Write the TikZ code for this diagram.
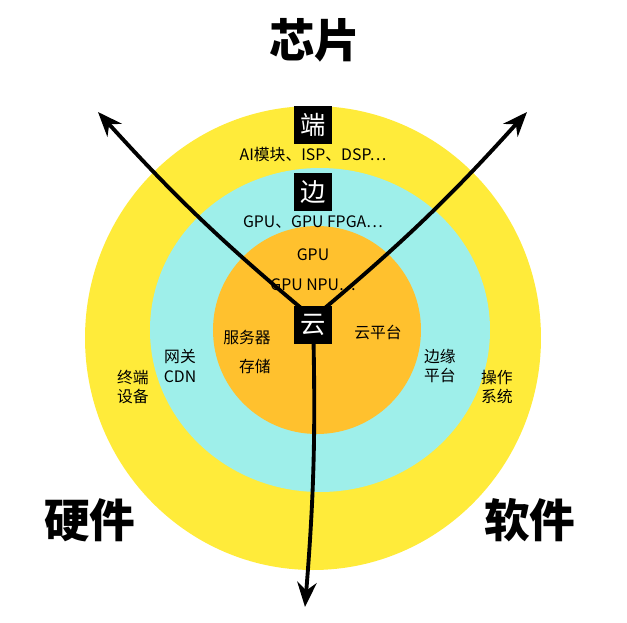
\documentclass[tikz,border=0pt]{standalone}
\usepackage{fontspec}
\newfontfamily\cjk{Noto Sans CJK SC}
\usetikzlibrary{arrows.meta}
\definecolor{ringout}{HTML}{FFEB3A}
\definecolor{ringmid}{HTML}{9EEFEA}
\definecolor{ringin}{HTML}{FFC12E}
\tikzset{%
  >={Stealth[length=14pt,width=11pt]},
  tag/.style={fill=black,text=white,font=\cjk\Large,inner sep=3pt,minimum size=22pt},
  lbl/.style={font=\cjk\small,align=center},
  big/.style={font=\cjk\bfseries\fontsize{26}{28}\selectfont}
}
\begin{document}
\begin{tikzpicture}[x=0.02cm,y=-0.02cm]
\useasboundingbox (0,0) rectangle (627,623);

%% rings
\fill[ringout] (313,338) ellipse (228 and 232);
\fill[ringmid] (320,330) ellipse (170 and 162);
\fill[ringin] (317,330) circle (104);

%% centre and arrow ends
\coordinate (C) at (313,318);
\coordinate (UL) at (98,112);
\coordinate (UR) at (527,112);
\coordinate (D) at (305,607);
\draw[line width=2.2pt,->] (C) to[bend left=4] (UL);
\draw[line width=2.2pt,->] (C) to[bend right=4] (UR);
\draw[line width=2.2pt,->] (C) to[bend left=3] (D);

%% labels
\node[big] (chip) at (315,40) {芯片};
\node[big] (hw) at (90,520) {硬件};
\node[big] (sw) at (530,520) {软件};
\node[tag] (duan) at (313,125) {端};
\node[tag] (bian) at (313,192) {边};
\node[tag] (yun) at (313,325) {云};
\node[lbl] (t1) at (313,155) {AI模块、ISP、DSP…};
\node[lbl] (t2) at (313,222) {GPU、GPU FPGA…};
\node[lbl] (t3) at (313,255) {GPU};
\node[lbl] (t4) at (313,285) {GPU NPU…};
\node[lbl] (srv) at (247,337) {服务器};
\node[lbl] (sto) at (255,366) {存储};
\node[lbl] (cp) at (378,332) {云平台};
\node[lbl] (gw) at (180,366) {网关\\CDN};
\node[lbl] (dev) at (133,387) {终端\\设备};
\node[lbl] (ep) at (440,366) {边缘\\平台};
\node[lbl] (os) at (497,387) {操作\\系统};
\end{tikzpicture}
\end{document}
